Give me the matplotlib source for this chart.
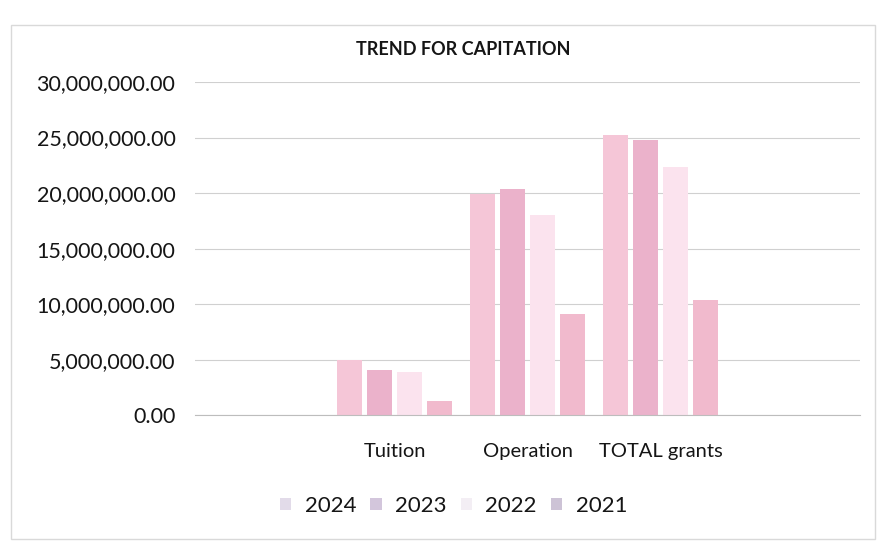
import matplotlib
matplotlib.use("Agg")
import matplotlib.pyplot as plt
import numpy as np
from matplotlib.ticker import FuncFormatter
from matplotlib.patches import Patch

# Capitation grants per category and year (first and last slots are empty categories)
categories = ["", "Tuition", "Operation", "TOTAL grants", ""]
years = ["2024", "2023", "2022", "2021"]
grant_2024 = [0, 5_000_000, 19_900_000, 25_200_000, 0]
grant_2023 = [0, 4_100_000, 20_400_000, 24_800_000, 0]
grant_2022 = [0, 3_900_000, 18_000_000, 22_300_000, 0]
grant_2021 = [0, 1_300_000, 9_100_000, 10_400_000, 0]
series = [grant_2024, grant_2023, grant_2022, grant_2021]
colors = ["#f5c6d7", "#ebb2cb", "#fbe3ee", "#f1bacd"]
legend_colors = ["#e2dbe9", "#d3c6dc", "#f3eef4", "#cdc3d6"]

plt.rcParams["font.family"] = ["Lato", "DejaVu Sans"]

fig = plt.figure(figsize=(8.86, 5.5), dpi=100)
ax = fig.add_axes([0.220, 0.245, 0.751, 0.606])

x = np.arange(len(categories))
width = 0.19
for i, (vals, col, yr) in enumerate(zip(series, colors, years)):
    ax.bar(x + (i - 1.5) * (width + 0.035), vals, width, color=col, zorder=2)

ax.set_xlim(-0.5, len(categories) - 0.5)
ax.set_ylim(0, 30_000_000)
ax.set_yticks(np.arange(0, 30_000_001, 5_000_000))
ax.yaxis.set_major_formatter(FuncFormatter(lambda v, p: f"{v:,.2f}"))
ax.set_xticks(x)
ax.set_xticklabels(categories)
ax.tick_params(axis="y", length=0, pad=14, labelsize=15.5, labelcolor="#151515")
ax.tick_params(axis="x", length=0, pad=20, labelsize=14.5, labelcolor="#151515")
ax.grid(axis="y", color="#d0d0d0", linewidth=0.8, zorder=0)
for s in ("top", "right", "left"):
    ax.spines[s].set_visible(False)
ax.spines["bottom"].set_color("#bdbdbd")

fig.text(0.523, 0.91, "TREND FOR CAPITATION", ha="center", va="center",
         fontsize=13, fontweight="bold", color="#151515")

handles = [Patch(facecolor=c, label=y) for c, y in zip(legend_colors, years)]
fig.legend(handles=handles, loc="center", bbox_to_anchor=(0.512, 0.08), ncol=4,
           frameon=False, fontsize=16, handlelength=0.5, handleheight=0.5,
           columnspacing=0.65, handletextpad=0.6, labelcolor="#151515")

# faint outer chart border
border = plt.Rectangle((0.012, 0.02), 0.976, 0.935, transform=fig.transFigure,
                       fill=False, edgecolor="#d9d9d9", linewidth=1.0)
fig.patches.append(border)

fig.savefig("out.png", dpi=100)
plt.close(fig)
